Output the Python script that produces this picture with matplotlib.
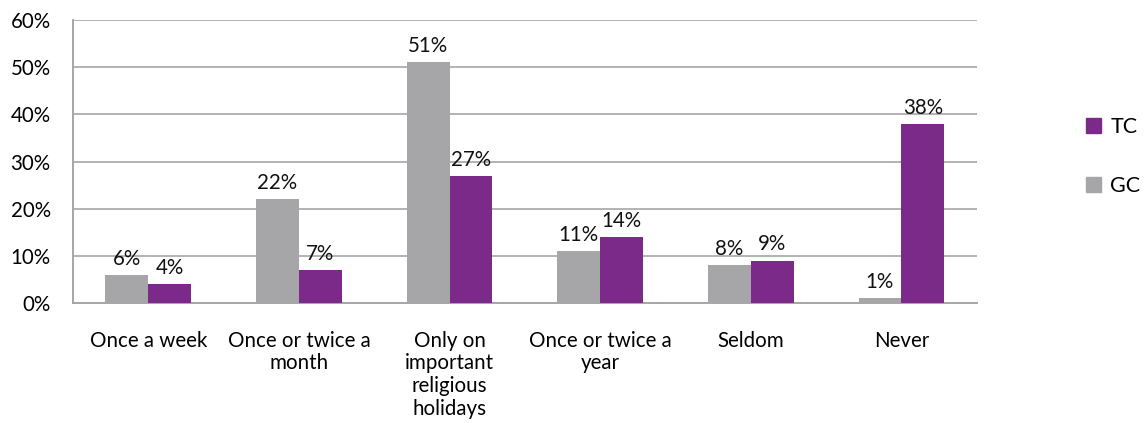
import matplotlib.pyplot as plt
import numpy as np
from matplotlib.patches import Patch

plt.rcParams['font.family'] = ['Lato', 'DejaVu Sans']

categories = ["Once a week", "Once or twice a\nmonth", "Only on\nimportant\nreligious\nholidays",
              "Once or twice a\nyear", "Seldom", "Never"]
gc = [6, 22, 51, 11, 8, 1]
tc = [4, 7, 27, 14, 9, 38]

col_gc = '#A6A6A8'
col_tc = '#7B2A8A'
grid_col = '#A6A6A6'
fs = 14.8

fig = plt.figure(figsize=(11.44, 4.23), dpi=100)
ax = fig.add_axes([0.0638, 0.2837, 0.79, 0.669])

x = np.arange(len(categories))
w = 0.285
b1 = ax.bar(x - w / 2, gc, width=w, color=col_gc, zorder=3)
b2 = ax.bar(x + w / 2, tc, width=w, color=col_tc, zorder=3)

for bars, vals in ((b1, gc), (b2, tc)):
    for r, v in zip(bars, vals):
        ax.text(r.get_x() + r.get_width() / 2, v + 1.3, f"{v}%", ha='center', va='bottom',
                fontsize=fs, color='#111111')

ax.set_xlim(-0.5, len(categories) - 0.5)
ax.set_ylim(0, 60)
ax.set_yticks(range(0, 61, 10))
ax.set_yticklabels([f"{t}%" for t in range(0, 61, 10)], fontsize=fs)
ax.set_xticks(x)
ax.set_xticklabels(categories, fontsize=fs, linespacing=1.17)
ax.tick_params(axis='both', length=0)
ax.tick_params(axis='x', pad=20)
ax.tick_params(axis='y', pad=16)

ax.grid(axis='y', color=grid_col, linewidth=1.2, zorder=0)
for s in ['top', 'right']:
    ax.spines[s].set_visible(False)
for s in ['left', 'bottom']:
    ax.spines[s].set_color(grid_col)
    ax.spines[s].set_linewidth(1.4)

handles = [Patch(color=col_tc, label='TC'), Patch(color=col_gc, label='GC')]
fig.legend(handles=handles, loc='center left', bbox_to_anchor=(0.949, 0.63),
           frameon=False, fontsize=15.5, labelspacing=1.8, handlelength=0.7,
           handleheight=0.7, handletextpad=0.45, borderpad=0, borderaxespad=0)

fig.savefig('out.png', dpi=100)
